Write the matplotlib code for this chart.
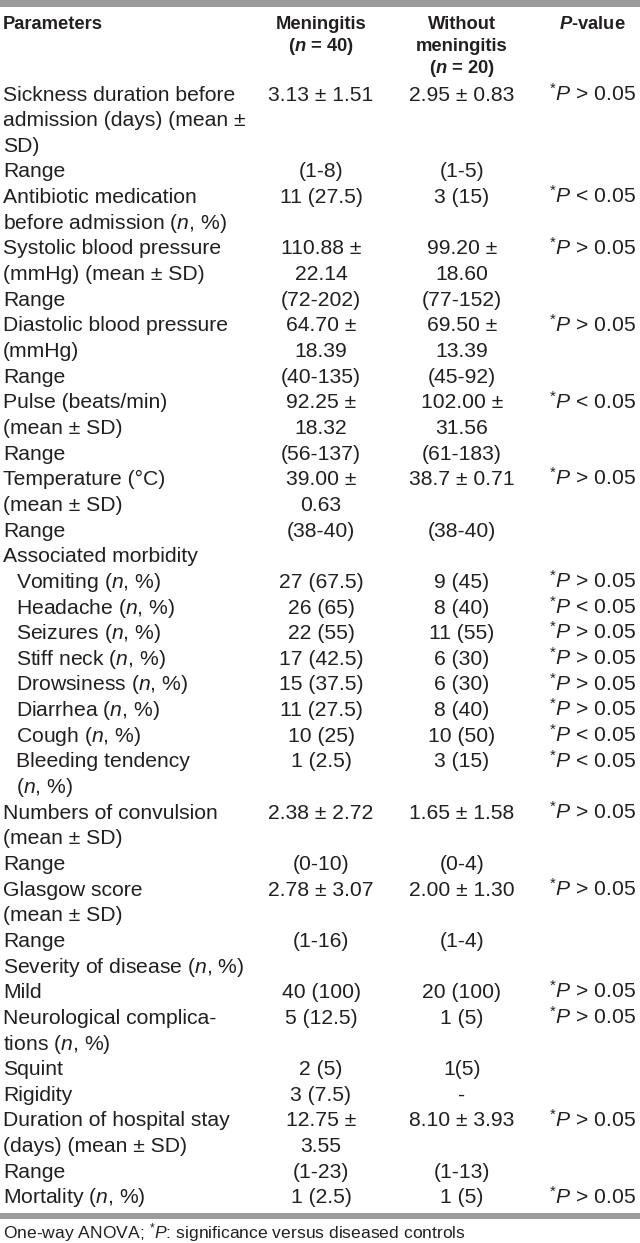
import matplotlib
matplotlib.use("Agg")
import matplotlib.pyplot as plt

plt.rcParams['font.family'] = ['Liberation Sans', 'DejaVu Sans']
plt.rcParams['mathtext.fontset'] = 'custom'
plt.rcParams['mathtext.rm'] = 'Liberation Sans'
plt.rcParams['mathtext.it'] = 'Liberation Sans:italic'
plt.rcParams['mathtext.bf'] = 'Liberation Sans:bold'
plt.rcParams['mathtext.bfit'] = 'Liberation Sans:bold:italic'

N = r"($\mathit{n}$, %)"
GT = r"$^{*}\mathit{P}$ > 0.05"
LT = r"$^{*}\mathit{P}$ < 0.05"

headers = [["Parameters"],
           ["Meningitis", r"($\mathbfit{n}$ = 40)"],
           ["Without", "meningitis", r"($\mathbfit{n}$ = 20)"],
           [r"$\mathbfit{P}$-value"]]

parameters = [
    ["Sickness duration before", "admission (days) (mean ±", "SD)"],
    ["Range"],
    ["Antibiotic medication", "before admission " + N],
    ["Systolic blood pressure", "(mmHg) (mean ± SD)"],
    ["Range"],
    ["Diastolic blood pressure", "(mmHg)"],
    ["Range"],
    ["Pulse (beats/min)", "(mean ± SD)"],
    ["Range"],
    ["Temperature (°C)", "(mean ± SD)"],
    ["Range"],
    ["Associated morbidity"],
    ["Vomiting " + N],
    ["Headache " + N],
    ["Seizures " + N],
    ["Stiff neck " + N],
    ["Drowsiness " + N],
    ["Diarrhea " + N],
    ["Cough " + N],
    ["Bleeding tendency", N],
    ["Numbers of convulsion", "(mean ± SD)"],
    ["Range"],
    ["Glasgow score", "(mean ± SD)"],
    ["Range"],
    ["Severity of disease " + N],
    ["Mild"],
    ["Neurological complica-", "tions " + N],
    ["Squint"],
    ["Rigidity"],
    ["Duration of hospital stay", "(days) (mean ± SD)"],
    ["Range"],
    ["Mortality " + N],
]
indented = [False] * 12 + [True] * 8 + [False] * 12

meningitis = [
    ["3.13 ± 1.51"], ["(1-8)"], ["11 (27.5)"], ["110.88 ±", "22.14"], ["(72-202)"],
    ["64.70 ±", "18.39"], ["(40-135)"], ["92.25 ±", "18.32"], ["(56-137)"],
    ["39.00 ±", "0.63"], ["(38-40)"], [""],
    ["27 (67.5)"], ["26 (65)"], ["22 (55)"], ["17 (42.5)"], ["15 (37.5)"],
    ["11 (27.5)"], ["10 (25)"], ["1 (2.5)"],
    ["2.38 ± 2.72"], ["(0-10)"], ["2.78 ± 3.07"], ["(1-16)"], [""],
    ["40 (100)"], ["5 (12.5)"], ["2 (5)"], ["3 (7.5)"], ["12.75 ±", "3.55"],
    ["(1-23)"], ["1 (2.5)"],
]
without = [
    ["2.95 ± 0.83"], ["(1-5)"], ["3 (15)"], ["99.20 ±", "18.60"], ["(77-152)"],
    ["69.50 ±", "13.39"], ["(45-92)"], ["102.00 ±", "31.56"], ["(61-183)"],
    ["38.7 ± 0.71"], ["(38-40)"], [""],
    ["9 (45)"], ["8 (40)"], ["11 (55)"], ["6 (30)"], ["6 (30)"],
    ["8 (40)"], ["10 (50)"], ["3 (15)"],
    ["1.65 ± 1.58"], ["(0-4)"], ["2.00 ± 1.30"], ["(1-4)"], [""],
    ["20 (100)"], ["1 (5)"], ["1(5)"], ["-"], ["8.10 ± 3.93"],
    ["(1-13)"], ["1 (5)"],
]
pvalues = [
    GT, "", LT, GT, "", GT, "", LT, "", GT, "", "",
    GT, LT, GT, GT, GT, GT, LT, LT,
    GT, "", GT, "", "", GT, GT, "", "", GT, "", GT,
]
footnote = r"One-way ANOVA; $^{*}\mathit{P}$: significance versus diseased controls"

W, H = 640, 1243
fig = plt.figure(figsize=(W / 100, H / 100), dpi=100)
ax = fig.add_axes([0, 0, 1, 1])
ax.set_xlim(0, W)
ax.set_ylim(H, 0)
ax.axis('off')

TXT = '#231f20'
BAR = '#9b9b9b'
FS = 15.2
HFS = 13.2

ax.axhspan(0, 6.5, color=BAR, lw=0)
ax.axhspan(1213, 1219, color=BAR, lw=0)

xs_left = 3
x_indent = 16
col_x = [321, 462, 592]

# header
hb0, hstep = 29, 22
for k, line in enumerate(headers[0]):
    ax.text(xs_left, hb0 + k * hstep, line, fontsize=HFS, fontweight='bold',
            color=TXT, ha='left', va='baseline')
for c, hdr in enumerate(headers[1:]):
    for k, line in enumerate(hdr):
        ax.text(col_x[c], hb0 + k * hstep, line, fontsize=HFS, fontweight='bold',
                color=TXT, ha='center', va='baseline')

# body
b0, step = 100.5, 25.65
i = 0
for r, lines in enumerate(parameters):
    x = x_indent if indented[r] else xs_left
    for k, line in enumerate(lines):
        ax.text(x, b0 + (i + k) * step, line, fontsize=FS, color=TXT,
                ha='left', va='baseline')
    for c, vals in enumerate([meningitis[r], without[r]]):
        for k, line in enumerate(vals):
            if line:
                ax.text(col_x[c], b0 + (i + k) * step, line, fontsize=FS,
                        color=TXT, ha='center', va='baseline')
    if pvalues[r]:
        ax.text(col_x[2], b0 + i * step, pvalues[r], fontsize=FS, color=TXT,
                ha='center', va='baseline')
    i += max(len(lines), len(meningitis[r]), len(without[r]))

ax.text(xs_left, 1238, footnote, fontsize=12.6, color=TXT, ha='left', va='baseline')

fig.savefig('out.png', dpi=100)
